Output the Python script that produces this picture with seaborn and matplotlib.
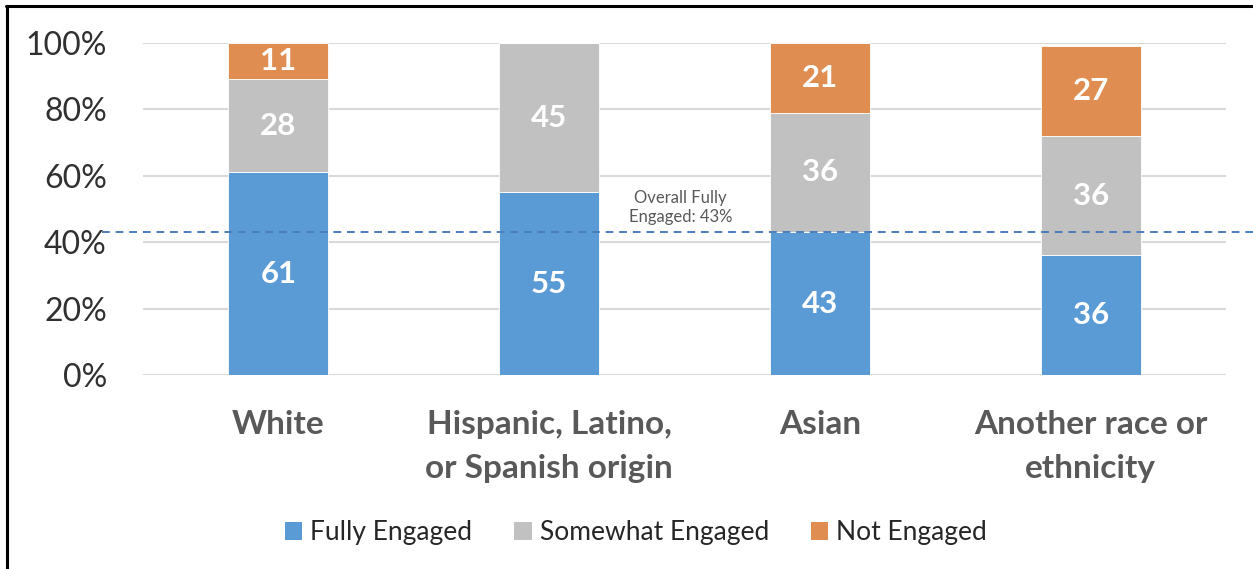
import matplotlib
matplotlib.use("Agg")
import matplotlib.pyplot as plt
from matplotlib.lines import Line2D
from matplotlib.patches import Patch
import numpy as np
import pandas as pd
import seaborn as sns

# Engagement shares (%) by race / ethnicity
categories = ["White", "Hispanic, Latino,\nor Spanish origin", "Asian", "Another race or\nethnicity"]
fully_engaged = [61, 55, 43, 36]
somewhat_engaged = [28, 45, 36, 36]
not_engaged = [11, 0, 21, 27]
overall_fully = 43
series_names = ["Fully Engaged", "Somewhat Engaged", "Not Engaged"]
y_ticks = [0, 20, 40, 60, 80, 100]

colors = ["#5B9BD5", "#C1C1C1", "#DF8D50"]

sns.set_theme(style="white")
plt.rcParams["font.family"] = ["Lato", "DejaVu Sans"]

fig = plt.figure(figsize=(12.53, 5.69), dpi=100)
ax = fig.add_axes([0.1141, 0.341, 0.8644, 0.5835])

df = pd.DataFrame({
    "category": categories,
    series_names[0]: fully_engaged,
    series_names[1]: somewhat_engaged,
    series_names[2]: not_engaged,
})

bottom = np.zeros(len(categories))
for name, color in zip(series_names, colors):
    vals = df[name].to_numpy(dtype=float)
    sns.barplot(data=df, x="category", y=name, order=categories, color=color,
                width=0.37, bottom=bottom, ax=ax, saturation=1,
                edgecolor="white", linewidth=0.6, zorder=3)
    for i, (v, b) in enumerate(zip(vals, bottom)):
        if v > 0:
            ax.text(i, b + v / 2, f"{v:.0f}", ha="center", va="center",
                    color="white", fontsize=22.5, fontweight="bold", zorder=5)
    bottom = bottom + vals

# overall fully-engaged reference line
ax.plot([-0.65, 3.6], [overall_fully, overall_fully], linestyle=(0, (4, 3)),
        color="#4A7EBB", linewidth=1.4, clip_on=False, zorder=4)
ax.text(1.485, overall_fully + 2.3, f"Overall Fully\nEngaged: {overall_fully}%",
        ha="center", va="bottom", fontsize=12, color="#595959",
        linespacing=1.2, zorder=6)

ax.set_xlim(-0.5, 3.5)
ax.set_ylim(0, 100)
ax.set_yticks(y_ticks)
ax.set_yticklabels([f"{t}%" for t in y_ticks], fontsize=23, color="#303030")
ax.set_xticks(range(len(categories)))
ax.set_xticklabels(categories, fontsize=24, fontweight="bold", color="#595959",
                   linespacing=1.65)
ax.tick_params(axis="y", length=0, pad=26)
ax.tick_params(axis="x", length=0, pad=25)
ax.yaxis.grid(True, color="#D9D9D9", linewidth=1.5, zorder=0)
ax.set_axisbelow(True)
ax.set_xlabel("")
ax.set_ylabel("")
for s in ax.spines.values():
    s.set_visible(False)

handles = [Patch(facecolor=c, edgecolor="none") for c in colors]
fig.legend(handles, series_names, loc="center", bbox_to_anchor=(0.5076, 0.0633),
           ncol=3, frameon=False, fontsize=19, handlelength=0.65,
           handleheight=0.65, handletextpad=0.3, columnspacing=1.6)

# outer frame (left and top edges)
fig.add_artist(Line2D([7 / 1253, 7 / 1253], [0, 1 - 6 / 569], color="black",
                      linewidth=2.2, transform=fig.transFigure))
fig.add_artist(Line2D([6 / 1253, 1], [1 - 6 / 569, 1 - 6 / 569], color="black",
                      linewidth=2.2, transform=fig.transFigure))

fig.savefig("out.png", dpi=100, facecolor="white")
